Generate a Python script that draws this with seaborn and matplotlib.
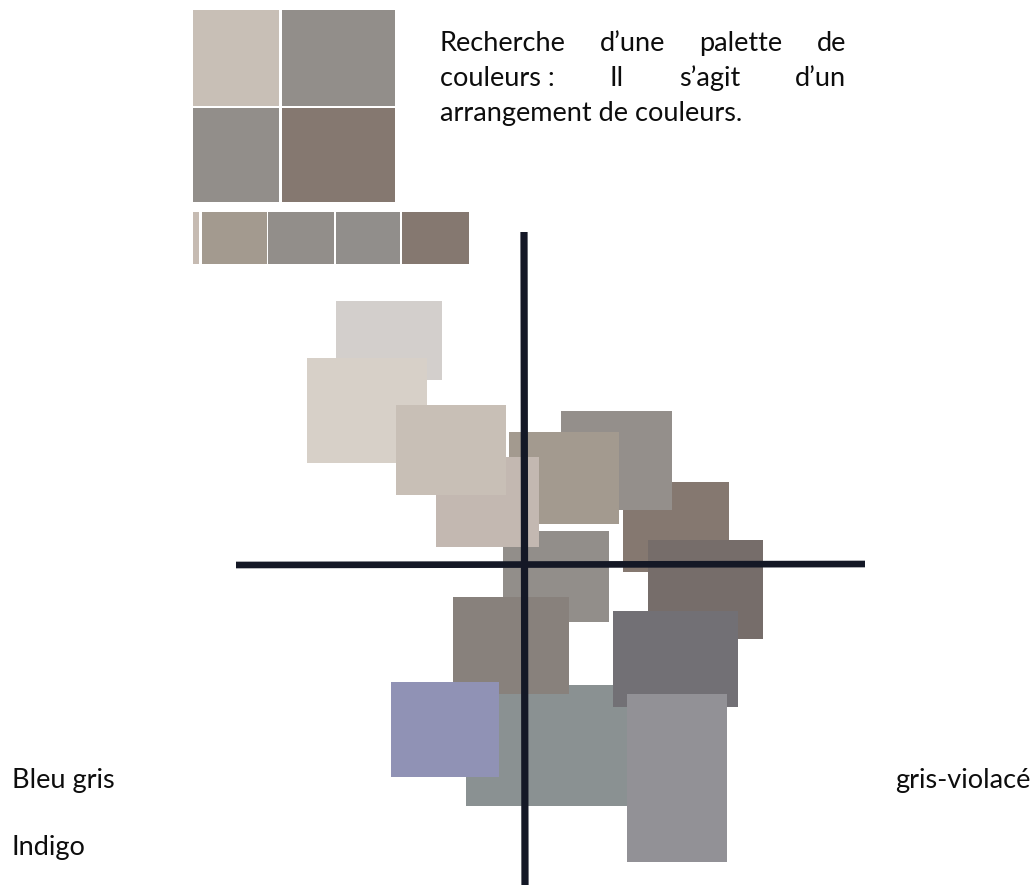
import matplotlib
matplotlib.use("Agg")
import matplotlib.pyplot as plt
import seaborn as sns

sns.set_theme(style="white")
plt.rcParams['font.family'] = ['Lato', 'DejaVu Sans']

# palette swatches (page pixel coords: left, top, right, bottom)
palette_boxes = [(193, 10, 279, 106), (282, 10, 395, 106),
                 (193, 108, 279, 202), (282, 108, 395, 202)]
palette_colors = ['#c8bfb6', '#928e8a', '#928e8a', '#857870']

strip_left = [193, 202, 268, 336, 402]
strip_right = [199, 267, 334, 400, 469]
strip_colors = ['#c6bbb2', '#a39a8f', '#928e8a', '#918e8b', '#857870']
strip_top, strip_bottom = 212, 264

# colour cloud, listed from back to front
cloud_left = [336, 307, 623, 561, 509, 503, 436, 396, 648, 466, 453, 613, 391, 627]
cloud_top = [301, 358, 482, 411, 432, 531, 457, 405, 540, 685, 597, 611, 682, 694]
cloud_right = [442, 427, 729, 672, 619, 609, 539, 506, 763, 640, 569, 738, 499, 727]
cloud_bottom = [380, 463, 572, 510, 524, 622, 547, 495, 639, 806, 694, 707, 777, 862]
cloud_colors = ['#d3cfcc', '#d7d0c8', '#857870', '#948f8b', '#a39a8f', '#928e8a',
                '#c3b8b1', '#c8bfb6', '#766d6a', '#8a9192', '#88817c', '#727075',
                '#9092b5', '#929196']

h_axis_x = [236, 865]
h_axis_y = [565, 564]
v_axis_x = [524, 525]
v_axis_y = [232, 885]

para_lines = [["Recherche", "d\u2019une", "palette", "de"],
              ["couleurs\u00a0:", "Il", "s\u2019agit", "d\u2019un"],
              ["arrangement de couleurs."]]
labels = ["Bleu gris", "Indigo", "gris-violac\u00e9"]

fig = plt.figure(figsize=(10.34, 8.90), dpi=100)
ax = fig.add_axes([0, 0, 1, 1])
ax.set_xlim(0, 1034)
ax.set_ylim(890, 0)
ax.axis('off')


def boxes(lefts, tops, rights, bottoms, colors):
    for l, t, r, b, c in zip(lefts, tops, rights, bottoms, colors):
        ax.bar(l, b - t, width=r - l, bottom=t, align='edge', color=c, linewidth=0)


boxes([p[0] for p in palette_boxes], [p[1] for p in palette_boxes],
      [p[2] for p in palette_boxes], [p[3] for p in palette_boxes], palette_colors)
boxes(strip_left, [strip_top] * 5, strip_right, [strip_bottom] * 5, strip_colors)
boxes(cloud_left, cloud_top, cloud_right, cloud_bottom, cloud_colors)

sns.lineplot(x=h_axis_x, y=h_axis_y, sort=False, color='#141826', lw=4.8, ax=ax,
             solid_capstyle='butt')
sns.lineplot(x=v_axis_x, y=v_axis_y, sort=False, color='#141826', lw=5.2, ax=ax,
             solid_capstyle='butt')

fs = 19.5
ink = '#0d0d0d'
renderer = fig.canvas.get_renderer()


def justify(words, y, x0=440, x1=846, full=True):
    texts = [ax.text(x0, y, w, fontsize=fs, va='baseline', ha='left', color=ink)
             for w in words]
    if not full or len(words) == 1:
        return
    widths = [t.get_window_extent(renderer=renderer).width for t in texts]
    gap = (x1 - x0 - sum(widths)) / (len(words) - 1)
    x = x0
    for t, w in zip(texts, widths):
        t.set_x(x)
        x += w + gap


justify(para_lines[0], 51)
justify(para_lines[1], 86)
justify(para_lines[2], 121, full=False)

ax.text(12, 788, labels[0], fontsize=fs, va='baseline', ha='left', color=ink)
ax.text(12, 855, labels[1], fontsize=fs, va='baseline', ha='left', color=ink)
ax.text(1030, 788, labels[2], fontsize=fs, va='baseline', ha='right', color=ink)

fig.savefig('out.png', dpi=100)
